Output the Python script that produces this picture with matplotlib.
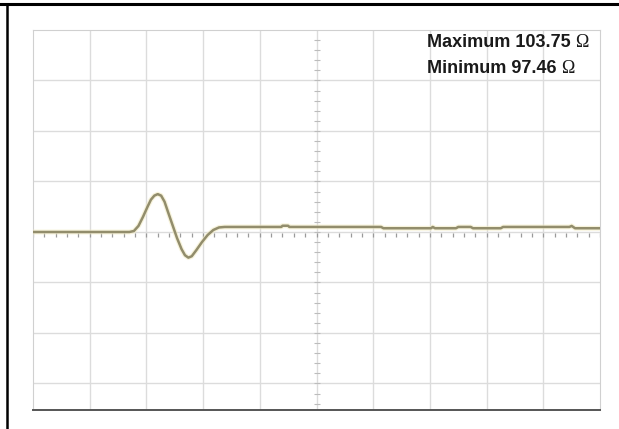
import numpy as np
import matplotlib
matplotlib.use("Agg")
import matplotlib.pyplot as plt
from matplotlib.lines import Line2D

# time in screen divisions, impedance in ohms (5 ohm/div, 100 ohm at centre)
t = [0.0, 1.70, 1.78, 1.86, 1.94, 2.02, 2.08, 2.14, 2.20, 2.26, 2.32, 2.38,
     2.46, 2.54, 2.62, 2.68, 2.74, 2.80, 2.88, 2.98, 3.08, 3.18, 3.28, 3.38,
     4.38, 4.40, 4.50, 4.52, 6.14, 6.18, 7.02, 7.05, 7.09, 7.46, 7.50, 7.72,
     7.76, 8.25, 8.29, 9.46, 9.50, 9.56, 10.0]
z = [100.0, 100.0, 100.1, 100.6, 101.5, 102.5, 103.2, 103.6, 103.75, 103.6,
     103.0, 102.0, 100.7, 99.4, 98.3, 97.7, 97.46, 97.6, 98.2, 99.0, 99.7,
     100.2, 100.45, 100.5, 100.5, 100.62, 100.62, 100.5, 100.5, 100.37,
     100.37, 100.5, 100.37, 100.37, 100.5, 100.5, 100.37, 100.37, 100.5,
     100.5, 100.6, 100.37, 100.37]

max_label = "Maximum 103.75"
min_label = "Minimum 97.46"
ohm_div = 5
centre = 100

fig = plt.figure(figsize=(6.19, 4.29), dpi=100)
ax = fig.add_axes([33 / 619, 1 - 410 / 429, 567 / 619, 380 / 429])
ax.set_xlim(0, 10)
ax.set_ylim(centre - 3.525 * ohm_div, centre + 4 * ohm_div)

# graticule
for xv in range(1, 10):
    ax.axvline(xv, color="#dcdcdc", lw=1.0, zorder=1)
for k in range(-3, 4):
    ax.axhline(centre + k * ohm_div, color="#dcdcdc", lw=1.0, zorder=1)

# small ticks along the centre lines
xs = np.arange(0, 10.01, 0.2)
ax.plot(xs, np.full_like(xs, centre - 0.25), ls="none", marker="|", ms=3,
        mew=0.9, color="#9a9a9a", zorder=2)
ys = np.arange(centre - 3.4 * ohm_div, centre + 4 * ohm_div, 0.2 * ohm_div)
ax.plot(np.full_like(ys, 5), ys, ls="none", marker="_", ms=4, mew=0.8,
        color="#bcbcbc", zorder=2)

# trace with soft glow
ax.plot(t, z, color="#f3ecc4", lw=3.5, alpha=0.6, zorder=3, solid_capstyle="butt")
ax.plot(t, z, color="#928d6c", lw=1.8, zorder=4)

for side in ["left", "top", "right"]:
    ax.spines[side].set_color("#d0d0d0")
ax.spines["bottom"].set_color("#555555")
ax.spines["bottom"].set_linewidth(1.4)
ax.set_xticks([])
ax.set_yticks([])

t1 = ax.text(0.695, 0.955, max_label, transform=ax.transAxes, fontsize=13,
             fontweight="bold", family="Liberation Sans", color="#1a1a1a",
             va="baseline", ha="left")
t2 = ax.text(0.695, 0.887, min_label, transform=ax.transAxes, fontsize=13,
             fontweight="bold", family="Liberation Sans", color="#1a1a1a",
             va="baseline", ha="left")
for tt in (t1, t2):
    ax.annotate("\u03a9", xy=(1, 0), xycoords=tt, xytext=(3.5, 0),
                textcoords="offset points", fontsize=13, family="Liberation Serif",
                color="#1a1a1a", va="bottom", ha="left")

# outer cell border
fig.add_artist(Line2D([0, 1], [1 - 4 / 429, 1 - 4 / 429], color="black", lw=2.2))
fig.add_artist(Line2D([7 / 619, 7 / 619], [0, 1 - 4 / 429], color="black", lw=1.8))

fig.savefig("out.png", dpi=100)
